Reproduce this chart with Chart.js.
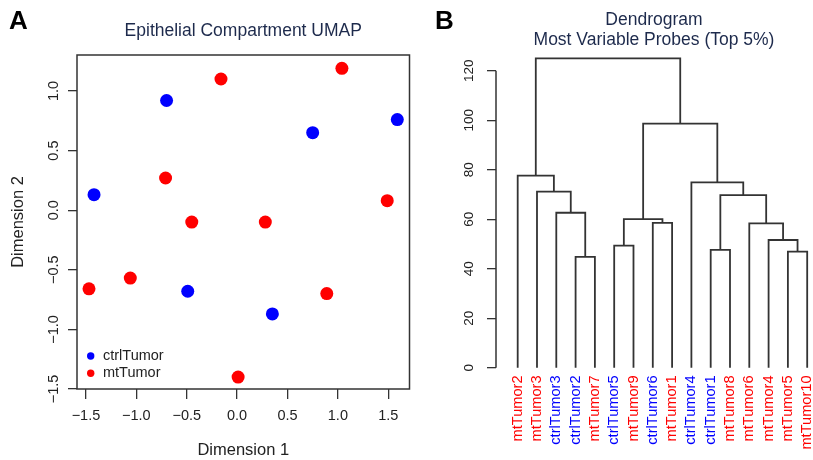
<!DOCTYPE html>
<html>
<head>
<meta charset="utf-8">
<title>UMAP and dendrogram</title>
<script src="https://cdn.jsdelivr.net/npm/chart.js@4.4.0/dist/chart.umd.min.js"></script>
<style>
    html, body { margin: 0; padding: 0; background: #fff; overflow: hidden; }
    #wrap { position: relative; width: 813px; height: 460px; }
    .panel-tag {
        position: absolute;
        font: bold 26px 'Liberation Sans', Arial, sans-serif;
        line-height: 1;
        color: #000;
    }
    #umapChart { position: absolute; left: 0; top: 0; }
    #dendroChart { position: absolute; left: 410px; top: 0; }
</style>
</head>
<body>
<div id="wrap">
    <canvas id="umapChart" width="416" height="460"></canvas>
    <canvas id="dendroChart" width="403" height="460"></canvas>
    <div class="panel-tag" style="left:9px; top:7px;">A</div>
    <div class="panel-tag" style="left:435px; top:7px;">B</div>
</div>
<script>
(function() {
    'use strict';

    // UMAP coordinates
    const ctrlDim1 = [-1.42, -0.70, 0.75, 1.59, -0.49, 0.35];
    const ctrlDim2 = [0.13, 0.92, 0.65, 0.76, -0.68, -0.87];
    const mtDim1 = [-0.16, 1.04, -0.71, 1.49, -0.45, 0.28, -1.47, -1.06, 0.89, 0.01];
    const mtDim2 = [1.10, 1.19, 0.27, 0.08, -0.10, -0.10, -0.66, -0.57, -0.70, -1.40];
    const dim1Ticks = [-1.5, -1.0, -0.5, 0.0, 0.5, 1.0, 1.5];
    const dim2Ticks = [-1.5, -1.0, -0.5, 0.0, 0.5, 1.0];

    // Dendrogram: leaf order left to right, then merges (leaf name or 1-based merge number)
    const leafOrder = ['mtTumor2', 'mtTumor3', 'ctrlTumor3', 'ctrlTumor2', 'mtTumor7', 'ctrlTumor5',
        'mtTumor9', 'ctrlTumor6', 'mtTumor1', 'ctrlTumor4', 'ctrlTumor1', 'mtTumor8', 'mtTumor6',
        'mtTumor4', 'mtTumor5', 'mtTumor10'];
    const mergeLeft = ['ctrlTumor2', 'mtTumor5', 'ctrlTumor1', 'ctrlTumor5', 'mtTumor4', 'mtTumor6',
        'ctrlTumor6', 4, 'ctrlTumor3', 3, 'mtTumor3', 'ctrlTumor4', 'mtTumor2', 8, 13];
    const mergeRight = ['mtTumor7', 'mtTumor10', 'mtTumor8', 'mtTumor9', 2, 5,
        'mtTumor1', 7, 1, 6, 9, 10, 11, 12, 14];
    const mergeHeight = [44.8, 46.9, 47.6, 49.3, 51.6, 58.3, 58.5, 60.0, 62.6, 69.7, 71.1, 74.9, 77.6, 98.6, 125.0];
    const heightTicks = [0, 20, 40, 60, 80, 100, 120];

    const BLUE = '#0000ff';
    const RED = '#ff0000';
    const INK = '#222222';
    const LINE = '#333333';
    const TITLE = '#1d2a4c';

    Chart.defaults.font.family = "'Liberation Sans', Arial, Helvetica, sans-serif";

    function fmtDim(v) {
        return v.toFixed(1).replace('-', '\u2212');
    }

    // fixed axis sizes so both panels line up with the figure
    function fixSize(prop, size) {
        return function(scale) {
            scale[prop] = size;
            scale.paddingLeft = 0;
            scale.paddingRight = 0;
            scale.paddingTop = 0;
            scale.paddingBottom = 0;
        };
    }

    function useTicks(values) {
        return function(scale) {
            scale.ticks = values.map(v => ({ value: v }));
        };
    }

    /**
     * Box around the plotting region (R style)
     */
    const plotFrame = {
        id: 'plotFrame',
        afterDraw(chart) {
            const { ctx, chartArea: a } = chart;
            ctx.save();
            ctx.strokeStyle = LINE;
            ctx.lineWidth = 1.5;
            ctx.strokeRect(a.left, a.top, a.right - a.left, a.bottom - a.top);
            ctx.restore();
        }
    };

    /**
     * Small legend in the lower left corner of the plot
     */
    const cornerLegend = {
        id: 'cornerLegend',
        afterDraw(chart) {
            const { ctx, chartArea: a } = chart;
            ctx.save();
            ctx.font = "14.5px 'Liberation Sans', Arial, sans-serif";
            ctx.textBaseline = 'middle';
            chart.data.datasets.forEach((ds, i) => {
                const y = a.bottom - 33 + i * 17.3;
                ctx.fillStyle = ds.backgroundColor;
                ctx.beginPath();
                ctx.arc(a.left + 13.7, y, 3.7, 0, Math.PI * 2);
                ctx.fill();
                ctx.fillStyle = INK;
                ctx.fillText(ds.label, a.left + 26, y);
            });
            ctx.restore();
        }
    };

    /**
     * Height axis line only spans the tick range
     */
    const heightAxisLine = {
        id: 'heightAxisLine',
        afterDraw(chart) {
            const { ctx, chartArea: a } = chart;
            const y = chart.scales.y;
            ctx.save();
            ctx.strokeStyle = LINE;
            ctx.lineWidth = 1.5;
            ctx.beginPath();
            ctx.moveTo(a.left, y.getPixelForValue(heightTicks[0]));
            ctx.lineTo(a.left, y.getPixelForValue(heightTicks[heightTicks.length - 1]));
            ctx.stroke();
            ctx.restore();
        }
    };

    function initUmapChart() {
        const ctx = document.getElementById('umapChart');

        new Chart(ctx, {
            type: 'scatter',
            data: {
                datasets: [{
                    label: 'ctrlTumor',
                    data: ctrlDim1.map((x, i) => ({ x: x, y: ctrlDim2[i] })),
                    backgroundColor: BLUE,
                    borderColor: BLUE,
                    borderWidth: 0,
                    pointRadius: 6.5,
                }, {
                    label: 'mtTumor',
                    data: mtDim1.map((x, i) => ({ x: x, y: mtDim2[i] })),
                    backgroundColor: RED,
                    borderColor: RED,
                    borderWidth: 0,
                    pointRadius: 6.5,
                }]
            },
            options: {
                responsive: false,
                animation: false,
                events: [],
                layout: { padding: { left: 0, right: 6, top: 0, bottom: 0 } },
                plugins: {
                    legend: { display: false },
                    tooltip: { enabled: false },
                    title: {
                        display: true,
                        fullSize: false,
                        text: 'Epithelial Compartment UMAP',
                        color: TITLE,
                        font: { size: 17.5, weight: 'normal', lineHeight: 1.2 },
                        padding: { top: 20.5, bottom: 13.5 }
                    }
                },
                scales: {
                    x: {
                        type: 'linear',
                        min: -1.589,
                        max: 1.711,
                        afterBuildTicks: useTicks(dim1Ticks),
                        afterFit: fixSize('height', 71),
                        border: { display: false },
                        grid: { display: true, drawOnChartArea: false, tickLength: 10, color: LINE, lineWidth: 1.3 },
                        ticks: {
                            autoSkip: false,
                            maxRotation: 0,
                            padding: 8,
                            color: INK,
                            font: { size: 14.5 },
                            callback: fmtDim
                        },
                        title: {
                            display: true,
                            text: 'Dimension 1',
                            color: INK,
                            font: { size: 16.5, lineHeight: 1.2 },
                            padding: { top: 0, bottom: 0 }
                        }
                    },
                    y: {
                        type: 'linear',
                        min: -1.5,
                        max: 1.3015,
                        afterBuildTicks: useTicks(dim2Ticks),
                        afterFit: fixSize('width', 77),
                        border: { display: false },
                        grid: { display: true, drawOnChartArea: false, tickLength: 9, color: LINE, lineWidth: 1.3 },
                        ticks: {
                            autoSkip: false,
                            minRotation: 90,
                            maxRotation: 90,
                            crossAlign: 'center',
                            padding: 0,
                            color: INK,
                            font: { size: 14.5 },
                            callback: fmtDim
                        },
                        title: {
                            display: true,
                            text: 'Dimension 2',
                            color: INK,
                            font: { size: 16.5, lineHeight: 1.2 },
                            padding: { top: 8.5, bottom: 0 }
                        }
                    }
                }
            },
            plugins: [plotFrame, cornerLegend]
        });
    }

    function initDendrogram() {
        const ctx = document.getElementById('dendroChart');

        // x of a leaf is its slot, x of a merge is the middle of its two children
        const nodes = [];
        function nodeOf(ref) {
            if (typeof ref === 'string') {
                return { x: leafOrder.indexOf(ref), h: 0 };
            }
            return nodes[ref - 1];
        }
        mergeLeft.forEach((left, i) => {
            const a = nodeOf(left);
            const b = nodeOf(mergeRight[i]);
            nodes.push({ x: (a.x + b.x) / 2, h: mergeHeight[i], a: a, b: b });
        });

        const links = nodes.map(n => ({
            data: [
                { x: n.a.x, y: n.a.h },
                { x: n.a.x, y: n.h },
                { x: n.b.x, y: n.h },
                { x: n.b.x, y: n.b.h }
            ],
            showLine: true,
            borderColor: LINE,
            borderWidth: 1.8,
            pointRadius: 0,
            tension: 0,
            fill: false,
        }));

        new Chart(ctx, {
            type: 'scatter',
            data: { datasets: links },
            options: {
                responsive: false,
                animation: false,
                events: [],
                layout: { padding: { left: 0, right: 1, top: 0, bottom: 0 } },
                plugins: {
                    legend: { display: false },
                    tooltip: { enabled: false },
                    title: {
                        display: true,
                        fullSize: false,
                        text: ['Dendrogram', 'Most Variable Probes (Top 5%)'],
                        color: TITLE,
                        font: { size: 17.5, weight: 'normal', lineHeight: 1.16 },
                        padding: { top: 9.6, bottom: 4.8 }
                    }
                },
                scales: {
                    x: {
                        type: 'linear',
                        min: -1.124,
                        max: 15.249,
                        afterBuildTicks: useTicks(leafOrder.map((_, i) => i)),
                        afterFit: fixSize('height', 85),
                        border: { display: false },
                        grid: { display: false },
                        ticks: {
                            autoSkip: false,
                            minRotation: 90,
                            maxRotation: 90,
                            padding: -7.5,
                            font: { size: 14.6 },
                            color: function(c) {
                                const name = leafOrder[c.index] || '';
                                return name.startsWith('ctrl') ? BLUE : RED;
                            },
                            callback: function(value, index) {
                                return leafOrder[index];
                            }
                        }
                    },
                    y: {
                        type: 'linear',
                        min: -2.95,
                        max: 126.34,
                        afterBuildTicks: useTicks(heightTicks),
                        afterFit: fixSize('width', 86),
                        border: { display: false },
                        grid: { display: true, drawOnChartArea: false, tickLength: 9, color: LINE, lineWidth: 1.3 },
                        ticks: {
                            autoSkip: false,
                            minRotation: 90,
                            maxRotation: 90,
                            crossAlign: 'center',
                            padding: 6,
                            color: INK,
                            font: { size: 13.5 },
                            callback: v => String(v)
                        }
                    }
                }
            },
            plugins: [heightAxisLine]
        });
    }

    initUmapChart();
    initDendrogram();
})();
</script>
</body>
</html>
